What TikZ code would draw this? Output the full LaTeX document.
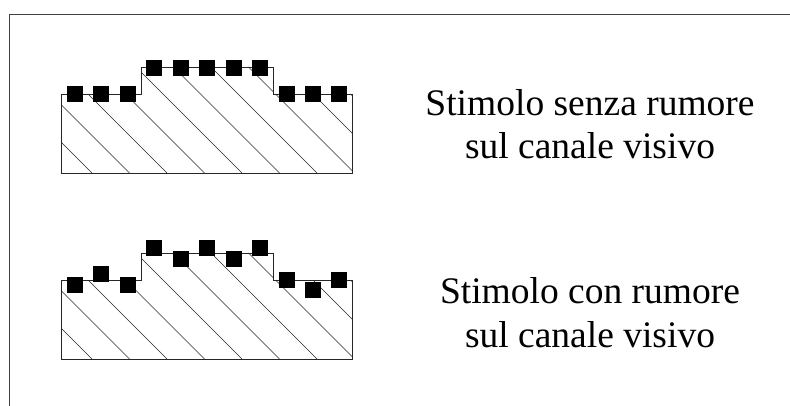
\documentclass[tikz,border=0pt]{standalone}
\usepackage{fontspec}
\setmainfont{Liberation Serif}
\begin{document}
\begin{tikzpicture}[x=1pt,y=-1pt,
  frame/.style={draw=black!75,line width=0.9pt},
  outline/.style={draw=black!85,line width=0.8pt},
  hatch/.style={draw=black!85,line width=0.6pt},
  dot/.style={fill=black},
  caption/.style={font=\fontsize{37.5}{43}\selectfont,anchor=base,inner sep=0pt}]
\useasboundingbox (0,0) rectangle (790,406);
% partial frame: top and left edges
\draw[frame] (790,14) -- (9,14) -- (9,406);

% stepped profile with diagonal hatching, shifted vertically by #1
\newcommand{\profile}[1]{%
  \begin{scope}[yshift=-#1pt]
    \begin{scope}
      \clip (61.5,173) -- (61.5,94) -- (141,94) -- (141,67) -- (273,67) -- (273,94) -- (352.5,94) -- (352.5,173) -- cycle;
      \foreach \xb in {-20.5,17,54.5,92,129.5,167,204.5,242,279.5,317,354.5,392,429.5,467}
        \draw[hatch] (\xb-150,23) -- (\xb,173);
    \end{scope}
    \draw[outline] (61.5,173) -- (61.5,94) -- (141,94) -- (141,67) -- (273,67) -- (273,94) -- (352.5,94) -- (352.5,173) -- cycle;
  \end{scope}}

\profile{0}
\profile{186}

% particles sitting on the profile
\foreach \x/\y in {75/94,101/94,128/94,154/68,181/68,207/68,234/68,260/68,287/94,313/94,339/94}
  \fill[dot] (\x-8,\y-8) rectangle (\x+8,\y+8);
% particles displaced by noise
\foreach \x/\y in {75/285,101/274,128/285,154/248,181/259,207/248,234/259,260/248,287/280,313/290,339/280}
  \fill[dot] (\x-8,\y-8) rectangle (\x+8,\y+8);

\node[caption] (t1a) at (590,116) {Stimolo senza rumore};
\node[caption] (t1b) at (590,159) {sul canale visivo};
\node[caption] (t2a) at (590,303) {Stimolo con rumore};
\node[caption] (t2b) at (590,347) {sul canale visivo};
\end{tikzpicture}
\end{document}
